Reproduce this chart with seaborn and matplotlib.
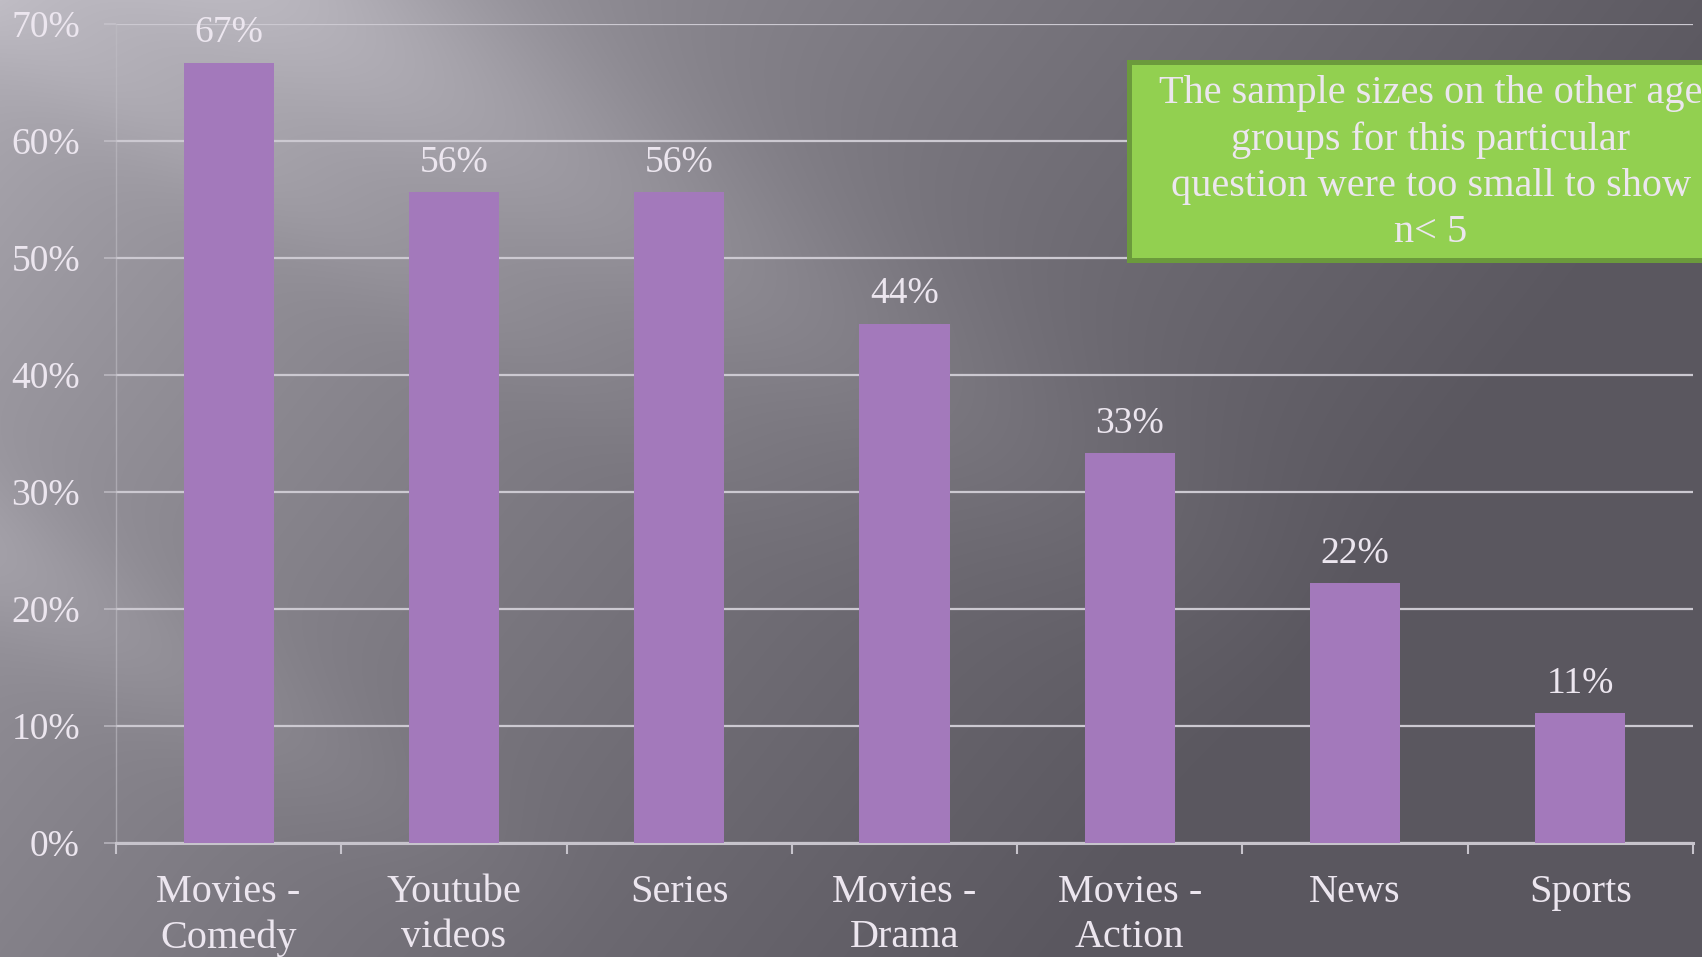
import numpy as np
import matplotlib
matplotlib.use("Agg")
import matplotlib.pyplot as plt
import seaborn as sns
import pandas as pd
from matplotlib.patches import Rectangle

# ---- data ----
categories = ["Movies -\nComedy", "Youtube\nvideos", "Series", "Movies -\nDrama",
              "Movies -\nAction", "News", "Sports"]
values = [66.7, 55.6, 55.6, 44.4, 33.3, 22.2, 11.1]
y_ticks = [0, 10, 20, 30, 40, 50, 60, 70]
y_tick_labels = ["0%", "10%", "20%", "30%", "40%", "50%", "60%", "70%"]
note_text = ("The sample sizes on the other age\ngroups for this particular\n"
             "question were too small to show\nn< 5")

sns.set_theme(style="white")
plt.rcParams['font.family'] = ['Liberation Serif', 'DejaVu Serif']

TXT = "#ece6ef"
BAR = "#a379bb"
GRID = (0.80, 0.79, 0.82, 0.7)

W, H = 1702, 957
fig = plt.figure(figsize=(W / 100, H / 100), dpi=100)

# ---- background (decorative gradient) ----
bg = fig.add_axes([0, 0, 1, 1], zorder=0)
yy, xx = np.mgrid[0:H, 0:W].astype(float)
t = (xx / W) * 0.8 + (yy / H) * 0.35
b = 176 - 86 * np.clip(t / 0.85, 0, 1) ** 0.75
d = np.array([850.0, 520.0]); d /= np.linalg.norm(d)
# main diagonal light streak
px, py = xx - 280, yy - 0
perp = px * d[1] - py * d[0]
along = px * d[0] + py * d[1]
b += 30 * np.exp(-(perp / 120) ** 2) * np.clip(1 - along / 1250, 0, 1)
b += 10 * np.exp(-((perp + 160) / 60) ** 2) * np.clip(1 - along / 900, 0, 1)
# lower-left faint streak
px2, py2 = xx - 0, yy - 560
perp2 = px2 * d[1] - py2 * d[0]
along2 = px2 * d[0] + py2 * d[1]
b += 16 * np.exp(-(perp2 / 70) ** 2) * np.clip(1 - along2 / 700, 0, 1)
img = np.stack([b, b - 3, b + 5], axis=-1)
img = np.clip(img, 0, 255) / 255.0
bg.imshow(img, aspect="auto", extent=[0, 1, 0, 1], origin="upper")
bg.set_axis_off()

# ---- main axes ----
ax = fig.add_axes([116 / W, 1 - 843 / H, (1693 - 116) / W, (843 - 24) / H], zorder=1)
ax.patch.set_alpha(0)
df = pd.DataFrame({"cat": categories, "val": values})
sns.barplot(data=df, x="cat", y="val", color=BAR, saturation=1, width=0.4,
            linewidth=0, edgecolor="none", ax=ax, zorder=3)

ax.set_xlim(-0.5, len(categories) - 0.5)
ax.set_ylim(0, 70)
ax.set_yticks(y_ticks)
ax.set_yticklabels(y_tick_labels)
ax.set_xlabel("")
ax.set_ylabel("")
ax.set_axisbelow(True)
ax.yaxis.grid(True, color=GRID, lw=1.6)
ax.xaxis.grid(False)

for s in ["top", "right"]:
    ax.spines[s].set_visible(False)
ax.spines["bottom"].set_color((0.78, 0.77, 0.80))
ax.spines["bottom"].set_linewidth(2.2)
ax.spines["left"].set_color((0.75, 0.74, 0.77, 0.6))
ax.spines["left"].set_linewidth(1.0)

ax.tick_params(axis="y", length=9, width=1.2, color=GRID, pad=17,
               labelsize=27, labelcolor=TXT, left=True)
ax.set_xticks(range(len(categories)))
ax.set_xticks(np.arange(-0.5, len(categories)), minor=True)
ax.tick_params(axis="x", which="major", length=0, pad=22, labelsize=29, labelcolor=TXT)
ax.tick_params(axis="x", which="minor", length=8, width=1.5,
               color=(0.78, 0.77, 0.80), bottom=True)
for lbl in ax.get_xticklabels():
    lbl.set_linespacing(1.3)

for i, v in enumerate(values):
    ax.annotate(f"{round(v)}%", (i, v), xytext=(0, 9), textcoords="offset points",
                ha="center", va="bottom", fontsize=27, color=TXT)

# ---- note box ----
fig.patches.append(Rectangle((1129 / W, 1 - 260 / H), 0.4, 198 / H,
                             transform=fig.transFigure, facecolor="#92d050",
                             edgecolor="#6b9a3c", lw=3.6, zorder=5))
fig.text(1431 / W, 1 - 163 / H, note_text, ha="center", va="center",
         multialignment="center", fontsize=29, color=TXT, linespacing=1.33, zorder=6)

fig.savefig("out.png", dpi=100)
